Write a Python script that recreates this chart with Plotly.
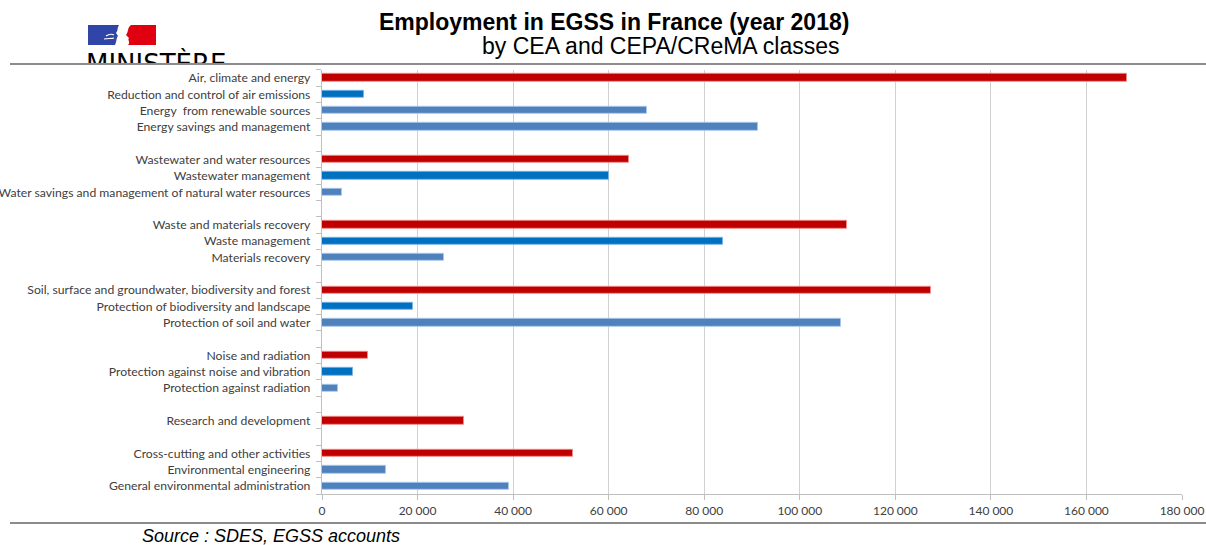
import plotly.graph_objects as go

W, H = 1206, 545

# ---- data -------------------------------------------------------------
categories = [
    "Air, climate and energy",
    "Reduction and control of air emissions",
    "Energy\u00a0 from renewable sources",
    "Energy savings and management",
    "",
    "Wastewater and water resources",
    "Wastewater management",
    "Water savings and management of natural water resources",
    "",
    "Waste and materials recovery",
    "Waste management",
    "Materials recovery",
    "",
    "Soil, surface and groundwater, biodiversity and forest",
    "Protection of biodiversity and landscape",
    "Protection of soil and water",
    "",
    "Noise and radiation",
    "Protection against noise and vibration",
    "Protection against radiation",
    "",
    "Research and development",
    "",
    "Cross-cutting and other activities",
    "Environmental engineering",
    "General environmental administration",
]
employment = [
    168450, 8800, 68100, 91350, None,
    64200, 60000, 4200, None,
    109800, 84000, 25600, None,
    127550, 19100, 108600, None,
    9700, 6400, 3300, None,
    29700, None,
    52500, 13300, 39100,
]
# class level: "CEA" = domain total, "A" = first sub-class, "B" = other sub-classes
levels = [
    "CEA", "A", "B", "B", "",
    "CEA", "A", "B", "",
    "CEA", "A", "B", "",
    "CEA", "A", "B", "",
    "CEA", "A", "B", "",
    "CEA", "",
    "CEA", "B", "B",
]
x_ticks = [0, 20000, 40000, 60000, 80000, 100000, 120000, 140000, 160000, 180000]

title = "Employment in EGSS in France (year 2018)"
subtitle = "by CEA and CEPA/CReMA classes"
source = "Source : SDES, EGSS accounts"

# ---- styling ----------------------------------------------------------
level_colors = {"CEA": "#C00000", "A": "#0070C0", "B": "#4F81BD", "": "rgba(0,0,0,0)"}
level_lines = {"CEA": "rgba(240,140,140,0.9)", "A": "rgba(120,180,230,0.9)",
               "B": "rgba(170,200,235,0.9)", "": "rgba(0,0,0,0)"}

positions = list(range(len(categories)))
bar_colors = [level_colors[k] for k in levels]
line_colors = [level_lines[k] for k in levels]

# pixel geometry of the plot area
px_left, px_right = 322, 1182
px_top, px_bottom = 69.8, 494.2


def fx(px):
    return px / W


def fy(py):
    return (H - py) / H


fig = go.Figure()

fig.add_trace(go.Bar(
    orientation="h",
    x=employment,
    y=positions,
    width=0.45,
    marker=dict(color=bar_colors, line=dict(color=line_colors, width=1)),
    hoverinfo="x+text",
    hovertext=categories,
    showlegend=False,
    xaxis="x", yaxis="y",
))

# clipped "MINISTÈRE" wordmark (cut by the header rule, like the original)
fig.add_trace(go.Scatter(
    x=[86], y=[66.5],
    mode="text",
    text=["MINISTÈRE"],
    textposition="middle right",
    textfont=dict(family="DejaVu Sans", size=26, color="#000000"),
    cliponaxis=True,
    hoverinfo="skip",
    showlegend=False,
    xaxis="x2", yaxis="y2",
))

fig.update_layout(
    width=W, height=H, autosize=False,
    margin=dict(l=0, r=0, t=0, b=0, pad=0),
    paper_bgcolor="white", plot_bgcolor="white",
    template="none",
    separators=",\u202f",
    bargap=0,
    xaxis=dict(
        domain=[fx(px_left), fx(px_right)],
        anchor="y",
        range=[0, 180000],
        tickmode="array", tickvals=x_ticks,
        tickformat=",d",
        showgrid=True, gridcolor="#d0d0d0", gridwidth=1.3,
        zeroline=False,
        showline=True, linecolor="#bfbfbf", linewidth=1.3,
        ticks="outside", ticklen=5, tickcolor="#bfbfbf", tickwidth=1.3,
        tickfont=dict(family="Lato", size=12, color="#404040"),
        automargin=False,
        fixedrange=True,
    ),
    yaxis=dict(
        domain=[fy(px_bottom), fy(px_top)],
        anchor="x",
        range=[len(categories) - 0.5, -0.5],
        tickmode="array", tickvals=positions, ticktext=categories,
        ticks="outside", ticklen=0,
        ticklabelstandoff=8,
        minor=dict(tickmode="array",
                   tickvals=[p - 0.5 for p in positions] + [len(categories) - 0.5],
                   ticks="outside", ticklen=5, tickcolor="#bfbfbf", tickwidth=1.3,
                   showgrid=False),
        showgrid=False, zeroline=False,
        showline=True, linecolor="#bfbfbf", linewidth=1.3,
        tickfont=dict(family="Lato", size=12.2, color="#404040"),
        automargin=False,
        fixedrange=True,
    ),
    xaxis2=dict(domain=[0, fx(300)], range=[0, 300], anchor="y2",
                visible=False, fixedrange=True),
    yaxis2=dict(domain=[fy(64), 1], range=[64, 0], anchor="x2",
                visible=False, fixedrange=True),
)

# logo blocks (Marianne)
fig.add_shape(type="path", xref="x2", yref="y2",
              path="M88,25 L119,25 C117,28 118,31 116,33 L118,36 C116,38 117,41 115,45 L88,45 Z",
              fillcolor="#2F46A8", line=dict(width=0))
fig.add_shape(type="path", xref="x2", yref="y2",
              path="M106,36 C109,34 112,34 114,35 M104,39 C108,38 111,39 114,38",
              line=dict(color="white", width=1.2))
fig.add_shape(type="path", xref="x2", yref="y2",
              path="M131,25 L156,25 L156,45 L128,45 C131,42 127,40 129,38 L126,35 C129,31 127,28 131,25 Z",
              fillcolor="#E1000F", line=dict(width=0))

# header and footer rules
fig.add_shape(type="line", xref="paper", yref="paper",
              x0=fx(10), x1=1, y0=fy(64), y1=fy(64),
              line=dict(color="#8c8c8c", width=2))
fig.add_shape(type="line", xref="paper", yref="paper",
              x0=fx(10), x1=1, y0=fy(523), y1=fy(523),
              line=dict(color="#8c8c8c", width=2))

# titles and source
fig.add_annotation(text="<b>" + title + "</b>", xref="paper", yref="paper",
                   x=fx(614), y=fy(22), xanchor="center", yanchor="middle",
                   showarrow=False,
                   font=dict(family="Liberation Sans", size=23, color="#000000"))
fig.add_annotation(text=subtitle, xref="paper", yref="paper",
                   x=fx(661), y=fy(46), xanchor="center", yanchor="middle",
                   showarrow=False,
                   font=dict(family="Liberation Sans", size=23, color="#000000"))
fig.add_annotation(text="<i>" + source + "</i>", xref="paper", yref="paper",
                   x=fx(140), y=fy(535.5), xanchor="left", yanchor="middle",
                   showarrow=False,
                   font=dict(family="Liberation Sans", size=18, color="#000000"))

fig.write_html("out.html")
